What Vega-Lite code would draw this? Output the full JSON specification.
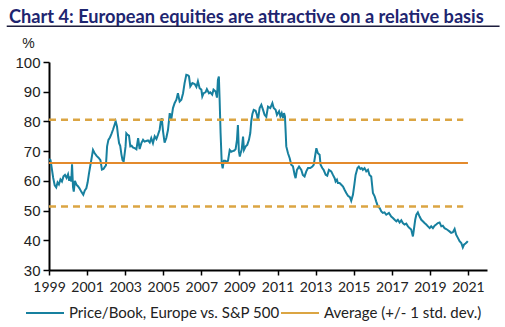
{
 "$schema": "https://vega.github.io/schema/vega-lite/v6.json",
 "width": 438,
 "height": 208,
 "autosize": "none",
 "padding": {"left": 49, "top": 62, "right": 18, "bottom": 57},
 "background": "white",
 "title": {"text": "Chart 4: European equities are attractive on a relative basis", "anchor": "start", "frame": "group", "dx": -40, "dy": 16, "offset": 0, "font": "Lato", "fontSize": 18.2, "fontWeight": "bold", "color": "#1e2570", "baseline": "alphabetic"},
 "config": {
  "view": {"stroke": null},
  "axis": {"labelOverlap": false, "labelBound": false, "grid": false, "tickCount": 40, "domainColor": "#000000", "domainWidth": 2, "tickColor": "#000000", "tickWidth": 1.5, "labelColor": "#222222"},
  "axisX": {"labelOverlap": false, "labelFlush": false, "labelFont": "Lato", "labelFontSize": 14, "tickSize": 5, "labelPadding": 5},
  "axisY": {"labelOverlap": false, "labelFont": "Liberation Sans", "labelFontSize": 15, "tickSize": 6, "labelPadding": 3},
  "legend": {"orient": "none", "legendX": -24, "legendY": 231, "direction": "horizontal", "symbolType": "stroke", "symbolSize": 1444, "symbolStrokeWidth": 2, "labelFont": "Lato", "labelFontSize": 15, "labelColor": "#222222", "labelLimit": 400, "columnPadding": -5, "labelOffset": 4, "title": null}
 },
 "datasets": {
  "pb": [
   {"t":1999.00,"v":67.3},{"t":1999.08,"v":67.0},{"t":1999.15,"v":64.0},{"t":1999.22,"v":61.0},{"t":1999.30,"v":58.5},{"t":1999.38,"v":57.8},{"t":1999.45,"v":59.5},{"t":1999.52,"v":58.8},{"t":1999.60,"v":60.5},{"t":1999.68,"v":59.8},{"t":1999.76,"v":61.5},{"t":1999.84,"v":62.0},{"t":1999.92,"v":61.0},
   {"t":2000.00,"v":62.2},{"t":2000.06,"v":60.0},{"t":2000.12,"v":61.5},{"t":2000.17,"v":59.8},{"t":2000.21,"v":65.6},{"t":2000.26,"v":58.0},{"t":2000.30,"v":56.4},{"t":2000.36,"v":60.0},{"t":2000.44,"v":58.7},{"t":2000.52,"v":58.2},{"t":2000.60,"v":57.5},{"t":2000.70,"v":56.3},{"t":2000.80,"v":55.3},{"t":2000.88,"v":56.8},{"t":2000.96,"v":57.5},
   {"t":2001.03,"v":59.5},{"t":2001.10,"v":62.5},{"t":2001.18,"v":65.5},{"t":2001.26,"v":68.5},{"t":2001.31,"v":70.4},{"t":2001.40,"v":69.3},{"t":2001.50,"v":68.4},{"t":2001.60,"v":67.8},{"t":2001.70,"v":67.0},{"t":2001.78,"v":63.8},{"t":2001.86,"v":64.0},{"t":2001.94,"v":64.8},{"t":2001.99,"v":65.2},
   {"t":2002.05,"v":71.6},{"t":2002.12,"v":73.8},{"t":2002.20,"v":74.6},{"t":2002.28,"v":75.8},{"t":2002.36,"v":77.2},{"t":2002.44,"v":78.8},{"t":2002.50,"v":80.0},{"t":2002.57,"v":78.3},{"t":2002.63,"v":75.0},{"t":2002.68,"v":72.7},{"t":2002.74,"v":71.8},{"t":2002.80,"v":69.0},{"t":2002.86,"v":67.0},{"t":2002.92,"v":66.5},{"t":2002.98,"v":69.5},
   {"t":2003.02,"v":71.6},{"t":2003.06,"v":76.0},{"t":2003.13,"v":75.5},{"t":2003.20,"v":75.2},{"t":2003.27,"v":71.6},{"t":2003.34,"v":71.8},{"t":2003.42,"v":71.2},{"t":2003.50,"v":71.0},{"t":2003.59,"v":70.6},{"t":2003.68,"v":74.4},{"t":2003.76,"v":70.7},{"t":2003.85,"v":72.7},{"t":2003.94,"v":73.8},
   {"t":2004.02,"v":73.2},{"t":2004.10,"v":73.4},{"t":2004.20,"v":73.6},{"t":2004.29,"v":72.9},{"t":2004.37,"v":74.4},{"t":2004.46,"v":72.7},{"t":2004.55,"v":75.0},{"t":2004.64,"v":74.1},{"t":2004.72,"v":75.5},{"t":2004.81,"v":77.2},{"t":2004.87,"v":80.0},{"t":2004.92,"v":81.1},{"t":2004.99,"v":76.6},
   {"t":2005.07,"v":72.9},{"t":2005.16,"v":74.4},{"t":2005.25,"v":77.2},{"t":2005.34,"v":82.8},{"t":2005.42,"v":80.6},{"t":2005.51,"v":84.5},{"t":2005.60,"v":86.2},{"t":2005.69,"v":87.3},{"t":2005.77,"v":89.5},{"t":2005.86,"v":86.7},{"t":2005.95,"v":87.3},
   {"t":2006.04,"v":89.5},{"t":2006.12,"v":92.9},{"t":2006.21,"v":95.7},{"t":2006.30,"v":95.5},{"t":2006.35,"v":95.2},{"t":2006.42,"v":91.8},{"t":2006.53,"v":92.9},{"t":2006.65,"v":92.6},{"t":2006.74,"v":91.6},{"t":2006.82,"v":93.5},{"t":2006.91,"v":91.2},
   {"t":2007.00,"v":90.7},{"t":2007.05,"v":88.4},{"t":2007.12,"v":89.5},{"t":2007.22,"v":89.8},{"t":2007.29,"v":90.9},{"t":2007.40,"v":89.5},{"t":2007.47,"v":89.8},{"t":2007.57,"v":89.0},{"t":2007.64,"v":90.7},{"t":2007.75,"v":90.1},{"t":2007.82,"v":88.0},{"t":2007.87,"v":94.0},{"t":2007.92,"v":95.1},{"t":2007.96,"v":87.3},
   {"t":2008.01,"v":76.1},{"t":2008.07,"v":66.0},{"t":2008.12,"v":64.2},{"t":2008.18,"v":66.8},{"t":2008.25,"v":66.8},{"t":2008.33,"v":66.4},{"t":2008.40,"v":66.8},{"t":2008.49,"v":70.4},{"t":2008.57,"v":69.8},{"t":2008.65,"v":70.0},{"t":2008.73,"v":70.2},{"t":2008.80,"v":70.7},{"t":2008.87,"v":73.8},{"t":2008.92,"v":78.8},{"t":2008.97,"v":70.0},
   {"t":2009.02,"v":68.2},{"t":2009.07,"v":69.5},{"t":2009.12,"v":70.5},{"t":2009.19,"v":74.9},{"t":2009.24,"v":70.4},{"t":2009.33,"v":71.6},{"t":2009.41,"v":72.1},{"t":2009.50,"v":73.8},{"t":2009.57,"v":76.1},{"t":2009.62,"v":80.0},{"t":2009.68,"v":82.5},{"t":2009.75,"v":83.9},{"t":2009.85,"v":83.6},{"t":2009.92,"v":82.2},{"t":2009.97,"v":80.3},
   {"t":2010.06,"v":84.5},{"t":2010.15,"v":85.6},{"t":2010.24,"v":83.9},{"t":2010.32,"v":82.2},{"t":2010.41,"v":81.5},{"t":2010.50,"v":85.0},{"t":2010.62,"v":84.5},{"t":2010.73,"v":86.2},{"t":2010.80,"v":84.5},{"t":2010.90,"v":83.9},{"t":2010.97,"v":82.2},
   {"t":2011.08,"v":83.4},{"t":2011.15,"v":81.7},{"t":2011.22,"v":82.8},{"t":2011.29,"v":81.1},{"t":2011.34,"v":82.8},{"t":2011.39,"v":81.7},{"t":2011.43,"v":76.1},{"t":2011.46,"v":71.6},{"t":2011.55,"v":69.3},{"t":2011.64,"v":67.6},{"t":2011.72,"v":65.4},{"t":2011.81,"v":64.9},{"t":2011.90,"v":62.0},{"t":2011.95,"v":60.9},
   {"t":2012.02,"v":63.7},{"t":2012.13,"v":64.8},{"t":2012.25,"v":63.7},{"t":2012.33,"v":62.0},{"t":2012.42,"v":61.5},{"t":2012.51,"v":63.2},{"t":2012.60,"v":64.3},{"t":2012.72,"v":64.3},{"t":2012.83,"v":64.8},{"t":2012.90,"v":65.4},{"t":2012.97,"v":68.2},
   {"t":2013.04,"v":71.0},{"t":2013.12,"v":69.3},{"t":2013.21,"v":68.8},{"t":2013.26,"v":65.4},{"t":2013.35,"v":64.3},{"t":2013.42,"v":63.7},{"t":2013.53,"v":62.0},{"t":2013.61,"v":61.7},{"t":2013.70,"v":63.7},{"t":2013.82,"v":63.2},{"t":2013.91,"v":62.0},
   {"t":2014.00,"v":60.9},{"t":2014.05,"v":59.8},{"t":2014.12,"v":60.4},{"t":2014.17,"v":59.3},{"t":2014.26,"v":59.3},{"t":2014.35,"v":58.7},{"t":2014.44,"v":58.1},{"t":2014.52,"v":57.0},{"t":2014.61,"v":55.9},{"t":2014.70,"v":55.0},{"t":2014.80,"v":54.5},{"t":2014.87,"v":53.3},{"t":2014.96,"v":55.3},
   {"t":2015.04,"v":59.0},{"t":2015.10,"v":62.0},{"t":2015.20,"v":64.3},{"t":2015.27,"v":64.8},{"t":2015.35,"v":64.0},{"t":2015.42,"v":64.3},{"t":2015.48,"v":63.7},{"t":2015.57,"v":64.3},{"t":2015.66,"v":63.2},{"t":2015.75,"v":63.7},{"t":2015.83,"v":62.0},{"t":2015.92,"v":61.5},
   {"t":2016.01,"v":55.9},{"t":2016.10,"v":54.8},{"t":2016.18,"v":53.1},{"t":2016.27,"v":51.4},{"t":2016.36,"v":50.9},{"t":2016.45,"v":49.7},{"t":2016.53,"v":49.2},{"t":2016.62,"v":49.4},{"t":2016.71,"v":48.6},{"t":2016.85,"v":49.2},{"t":2016.97,"v":48.0},
   {"t":2017.06,"v":47.5},{"t":2017.15,"v":46.9},{"t":2017.24,"v":46.4},{"t":2017.32,"v":46.9},{"t":2017.41,"v":46.0},{"t":2017.50,"v":46.7},{"t":2017.58,"v":45.8},{"t":2017.67,"v":45.3},{"t":2017.76,"v":45.6},{"t":2017.85,"v":44.7},{"t":2017.93,"v":44.1},
   {"t":2018.02,"v":43.6},{"t":2018.11,"v":41.3},{"t":2018.16,"v":43.6},{"t":2018.23,"v":46.9},{"t":2018.29,"v":48.6},{"t":2018.37,"v":49.4},{"t":2018.46,"v":48.0},{"t":2018.55,"v":46.9},{"t":2018.63,"v":46.4},{"t":2018.72,"v":45.8},{"t":2018.81,"v":45.3},{"t":2018.90,"v":44.7},{"t":2018.99,"v":44.1},
   {"t":2019.07,"v":44.7},{"t":2019.16,"v":44.1},{"t":2019.25,"v":44.9},{"t":2019.33,"v":45.3},{"t":2019.42,"v":45.8},{"t":2019.51,"v":46.0},{"t":2019.60,"v":44.7},{"t":2019.68,"v":44.9},{"t":2019.77,"v":44.1},{"t":2019.86,"v":43.8},{"t":2019.95,"v":43.4},
   {"t":2020.03,"v":43.0},{"t":2020.12,"v":42.5},{"t":2020.21,"v":42.7},{"t":2020.30,"v":43.8},{"t":2020.38,"v":41.9},{"t":2020.47,"v":40.8},{"t":2020.56,"v":39.7},{"t":2020.65,"v":39.1},{"t":2020.73,"v":37.6},{"t":2020.79,"v":38.5},{"t":2020.87,"v":38.9},{"t":2020.94,"v":39.3},{"t":2020.99,"v":39.7}
  ],
  "lvl": [
   {"k":"mean","lv":66.0,"a":1999,"b":2021},
   {"k":"upper","lv":80.6,"a":1999,"b":2020.75},
   {"k":"lower","lv":51.4,"a":1999,"b":2020.75}
  ],
  "deco": [
   {"a":1996.78,"b":2022.66,"lv":112.0}
  ]
 },
 "layer": [
  {
   "data": {"name": "pb"},
   "mark": {"type": "line", "strokeWidth": 2, "interpolate": "linear"},
   "encoding": {
    "x": {"field": "t", "type": "quantitative", "scale": {"domain": [1999, 2022], "nice": false, "zero": false},
      "axis": {"values": [1999, 2001, 2003, 2005, 2007, 2009, 2011, 2013, 2015, 2017, 2019, 2021], "tickCount": 40, "format": "d", "title": null}},
    "y": {"field": "v", "type": "quantitative", "scale": {"domain": [30, 100], "nice": false, "zero": false},
      "axis": {"values": [30, 40, 50, 60, 70, 80, 90, 100], "tickCount": 40, "title": "%", "titleAngle": 0, "titleAlign": "center", "titleBaseline": "alphabetic", "titleX": -21, "titleY": -15, "titleFont": "Liberation Sans", "titleFontSize": 14, "titleFontWeight": "normal", "titleColor": "#222222"}},
    "color": {"datum": "Price/Book, Europe vs. S&P 500", "type": "nominal", "scale": {"domain": ["Price/Book, Europe vs. S&P 500", "Average (+/- 1 std. dev.)"], "range": ["#17809f", "#dba543"]}}
   }
  },
  {
   "data": {"name": "deco"},
   "mark": {"type": "rule", "color": "#1c1c3c", "strokeWidth": 1.5, "clip": false},
   "encoding": {
    "x": {"field": "a", "type": "quantitative"},
    "x2": {"field": "b"},
    "y": {"field": "lv", "type": "quantitative"}
   }
  },
  {
   "data": {"name": "lvl"},
   "transform": [{"filter": "datum.k !== 'mean'"}],
   "mark": {"type": "rule", "strokeWidth": 2.5, "strokeDash": [7, 5]},
   "encoding": {
    "x": {"field": "a", "type": "quantitative"},
    "x2": {"field": "b"},
    "y": {"field": "lv", "type": "quantitative"},
    "color": {"datum": "Average (+/- 1 std. dev.)", "type": "nominal"}
   }
  },
  {
   "data": {"name": "lvl"},
   "transform": [{"filter": "datum.k === 'mean'"}],
   "mark": {"type": "rule", "strokeWidth": 2, "color": "#e38a2c"},
   "encoding": {
    "x": {"field": "a", "type": "quantitative"},
    "x2": {"field": "b"},
    "y": {"field": "lv", "type": "quantitative"}
   }
  }
 ]
}
